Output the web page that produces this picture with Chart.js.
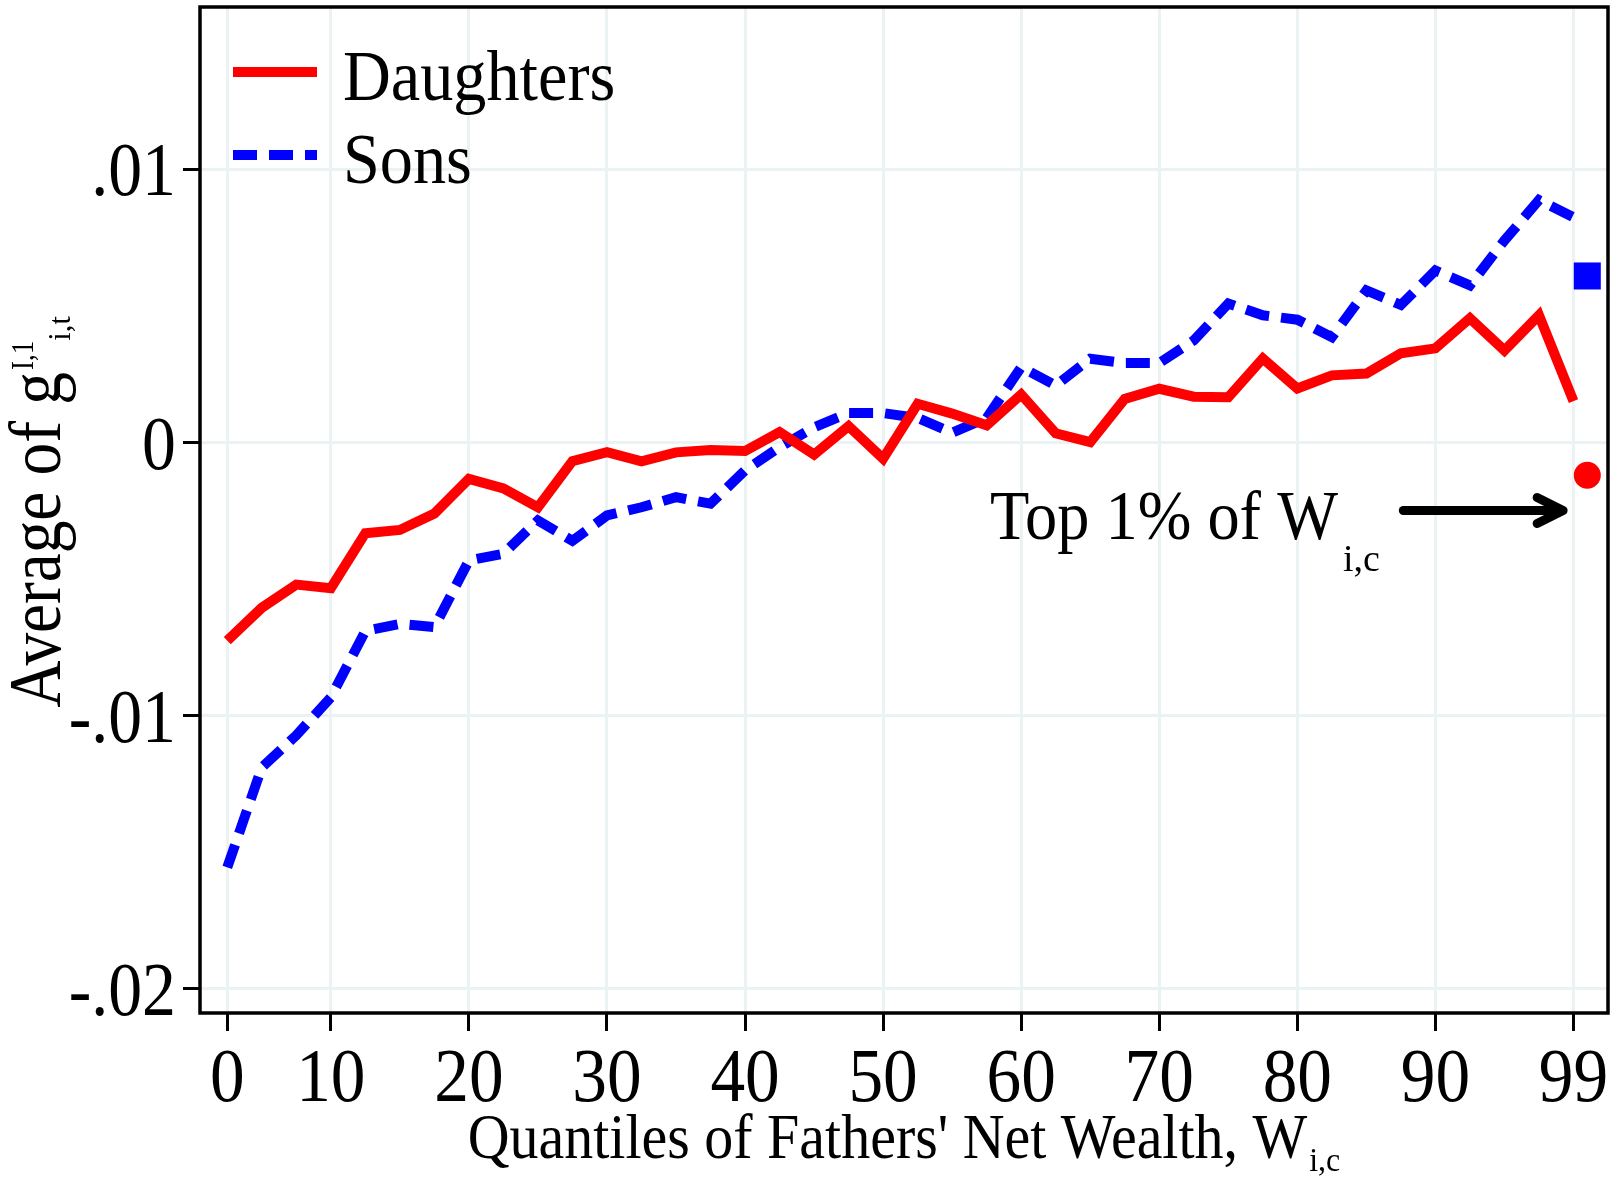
<!DOCTYPE html>
<html>
<head>
<meta charset="utf-8">
<script src="https://cdn.jsdelivr.net/npm/chart.js@4.4.1/dist/chart.umd.min.js"></script>
<style>
html,body{margin:0;padding:0;background:#fff;}
canvas{display:block;}
</style>
</head>
<body>
<canvas id="c" width="1620" height="1183"></canvas>
<script>
// ---- data ----
const bins = [0,1,2,3,4,5,6,7,8,9,10,11,12,13,14,15,16,17,18,19,20,21,22,23,24,25,26,27,28,29,30,31,32,33,34,35,36,37,38,39];
const daughters = [-0.00725,-0.00605,-0.0052,-0.00533,-0.00332,-0.0032,-0.0026,-0.00133,-0.00168,-0.00237,
  -0.00068,-0.00035,-0.00069,-0.00036,-0.00027,-0.00031,0.00038,-0.00044,0.0006,-0.00059,
  0.00142,0.00106,0.00063,0.00176,0.00034,0.00002,0.0016,0.00197,0.00168,0.00166,
  0.00308,0.00198,0.00246,0.00253,0.00327,0.00345,0.00455,0.00337,0.00466,0.00152];
const sons = [-0.01556,-0.0119,-0.01072,-0.00933,-0.0069,-0.00664,-0.00676,-0.00432,-0.00407,-0.00285,
  -0.0036,-0.00267,-0.00237,-0.002,-0.00224,-0.00102,-0.00017,0.00056,0.00108,0.00108,
  0.0009,0.00036,0.0009,0.00276,0.00209,0.00307,0.00291,0.00291,0.00374,0.00509,
  0.00466,0.0045,0.00386,0.00557,0.00504,0.0063,0.00576,0.0074,0.00888,0.00825];
const top1Bin = 39.4;
const top1Daughters = -0.0012;
const top1Sons = 0.0061;
const seriesNames = ['Daughters','Sons'];
const xTickBins = [0,3,7,11,15,19,23,27,31,35,39];
const xTickLabels = ['0','10','20','30','40','50','60','70','80','90','99'];
const yTickValues = [-0.02,-0.01,0,0.01];
const yTickLabels = ['-.02','-.01','0','.01'];
const annotText = 'Top 1% of W';
const annotSub = 'i,c';
const arrowFrom = 34.07, arrowTo = 38.7, arrowLevel = -0.00249;
const annotBin = 22.1, annotLevel = -0.00352;

const RED = '#ff0000', BLUE = '#0000ff';
const FONT = '"Liberation Serif", "Times New Roman", serif';

function runs(ctx, x, y, parts, align) {
  let total = 0;
  parts.forEach(p => {
    ctx.font = p.size + 'px ' + FONT;
    p.w = ctx.measureText(p.t).width * (p.sx || 1);
    total += p.w + (p.gap || 0);
  });
  let cx = align === 'center' ? x - total / 2 : (align === 'right' ? x - total : x);
  parts.forEach(p => {
    cx += (p.gap || 0);
    ctx.save();
    ctx.font = p.size + 'px ' + FONT;
    ctx.textAlign = 'left';
    ctx.textBaseline = 'alphabetic';
    ctx.fillStyle = '#000';
    ctx.translate(cx, y + (p.dy || 0));
    ctx.scale(p.sx || 1, 1);
    ctx.fillText(p.t, 0, 0);
    ctx.restore();
    cx += p.w;
  });
}

const decor = {
  id: 'decor',
  beforeDatasetsDraw(chart) {
    const {ctx, chartArea: a} = chart;
    ctx.save();
    ctx.strokeStyle = '#000';
    ctx.lineWidth = 3.5;
    ctx.strokeRect(a.left, a.top, a.right - a.left, a.bottom - a.top);
    ctx.restore();
  },
  afterDraw(chart) {
    const {ctx, chartArea: a, scales: {x, y}} = chart;
    ctx.save();
    // tick labels
    xTickBins.forEach((b, i) => {
      runs(ctx, x.getPixelForValue(b), 1101, [{t: xTickLabels[i], size: 77, sx: 0.9}], 'center');
    });
    yTickValues.forEach((v, i) => {
      runs(ctx, 176, y.getPixelForValue(v) + 26, [{t: yTickLabels[i], size: 77, sx: 0.88}], 'right');
    });
    // x title
    runs(ctx, (a.left + a.right) / 2, 1158, [
      {t: "Quantiles of Fathers' Net Wealth, W", size: 63, sx: 0.92},
      {t: 'i,c', size: 34, sx: 0.94, dy: 13, gap: 2}
    ], 'center');
    // y title (rotated)
    ctx.save();
    ctx.translate(60, (a.top + a.bottom) / 2 + 2);
    ctx.rotate(-Math.PI / 2);
    runs(ctx, 0, 0, [
      {t: 'Average of g', size: 75, sx: 0.87},
      {t: 'I,1', size: 32, sx: 0.85, dy: -27, gap: 2},
      {t: 'i,t', size: 32, sx: 0.95, dy: 10}
    ], 'center');
    ctx.restore();
    // legend
    const lx1 = a.left + 33, lx2 = a.left + 117;
    ctx.lineWidth = 10;
    ctx.lineCap = 'butt';
    ctx.strokeStyle = RED;
    ctx.beginPath(); ctx.moveTo(lx1, a.top + 65); ctx.lineTo(lx2, a.top + 65); ctx.stroke();
    ctx.strokeStyle = BLUE;
    ctx.setLineDash([24, 12]);
    ctx.beginPath(); ctx.moveTo(lx1, a.top + 148); ctx.lineTo(lx2, a.top + 148); ctx.stroke();
    ctx.setLineDash([]);
    runs(ctx, a.left + 143, a.top + 93, [{t: seriesNames[0], size: 72, sx: 0.92}], 'left');
    runs(ctx, a.left + 143, a.top + 176, [{t: seriesNames[1], size: 72, sx: 0.92}], 'left');
    // annotation
    runs(ctx, x.getPixelForValue(annotBin), y.getPixelForValue(annotLevel), [
      {t: annotText, size: 70, sx: 0.92},
      {t: annotSub, size: 38, sx: 1, dy: 32, gap: 5}
    ], 'left');
    const ax1 = x.getPixelForValue(arrowFrom), ax2 = x.getPixelForValue(arrowTo), ay = y.getPixelForValue(arrowLevel);
    ctx.strokeStyle = '#000';
    ctx.lineWidth = 9;
    ctx.lineCap = 'round';
    ctx.lineJoin = 'round';
    ctx.beginPath(); ctx.moveTo(ax1, ay); ctx.lineTo(ax2 - 3, ay); ctx.stroke();
    ctx.beginPath(); ctx.moveTo(ax2 - 26, ay - 13); ctx.lineTo(ax2, ay); ctx.lineTo(ax2 - 26, ay + 13); ctx.stroke();
    ctx.restore();
  }
};

function pts(vals) { return bins.map((b, i) => ({x: b, y: vals[i]})); }

document.fonts.load('70px "Liberation Serif"').finally(() => {
  new Chart(document.getElementById('c'), {
    type: 'line',
    data: {
      datasets: [
        {label: seriesNames[0], data: pts(daughters), borderColor: RED, borderWidth: 10, pointRadius: 0,
         borderJoinStyle: 'miter', borderCapStyle: 'butt', fill: false, tension: 0},
        {label: seriesNames[1], data: pts(sons), borderColor: BLUE, borderWidth: 10, pointRadius: 0,
         borderDash: [24, 12], borderJoinStyle: 'miter', borderCapStyle: 'butt', fill: false, tension: 0},
        {label: 'top1 sons', data: [{x: top1Bin, y: top1Sons}], showLine: false, pointStyle: 'rect',
         pointRadius: 19.1, backgroundColor: BLUE, borderWidth: 0, pointBorderWidth: 0},
        {label: 'top1 daughters', data: [{x: top1Bin, y: top1Daughters}], showLine: false, pointStyle: 'circle',
         pointRadius: 13.5, backgroundColor: RED, borderWidth: 0, pointBorderWidth: 0}
      ]
    },
    options: {
      responsive: false,
      animation: false,
      devicePixelRatio: 1,
      events: [],
      layout: {autoPadding: false, padding: {left: 0, top: 7, right: 12, bottom: 0}},
      plugins: {legend: {display: false}, tooltip: {enabled: false}, title: {display: false}},
      scales: {
        x: {
          type: 'linear', min: -0.79, max: 40.0,
          afterBuildTicks: s => { s.ticks = xTickBins.map(v => ({value: v})); },
          afterFit: s => { s.height = 170; },
          ticks: {display: false},
          border: {display: false},
          grid: {color: '#eaf2f3', lineWidth: 3, drawTicks: true, tickLength: 18, tickColor: '#000', tickWidth: 3}
        },
        y: {
          type: 'linear', min: -0.02089, max: 0.01595,
          afterBuildTicks: s => { s.ticks = yTickValues.map(v => ({value: v})); },
          afterFit: s => { s.width = 200; },
          ticks: {display: false},
          border: {display: false},
          grid: {color: '#eaf2f3', lineWidth: 3, drawTicks: true, tickLength: 17, tickColor: '#000', tickWidth: 3}
        }
      }
    },
    plugins: [decor]
  });
});
</script>
</body>
</html>
